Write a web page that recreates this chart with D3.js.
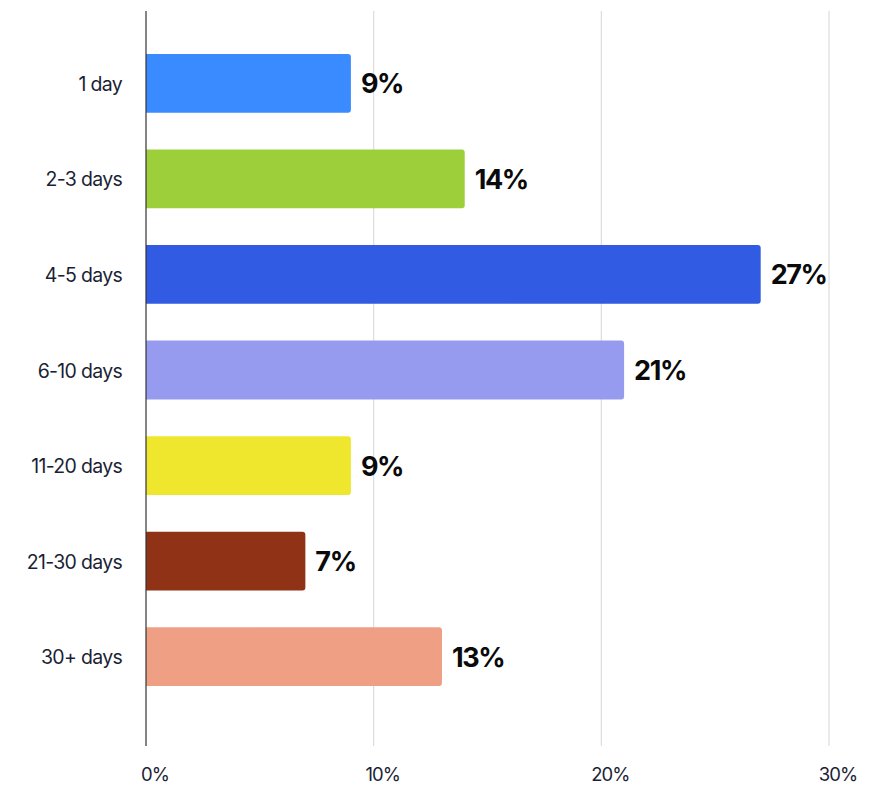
<!DOCTYPE html>
<html>
<head>
<meta charset="utf-8">
<script src="https://cdn.jsdelivr.net/npm/d3@7"></script>
<style>
  html, body { margin: 0; padding: 0; background: #ffffff; }
  svg { display: block; }
</style>
</head>
<body>
<svg id="chart" width="873" height="787"></svg>
<script>
// Share of responses by duration
const categories = ["1 day", "2-3 days", "4-5 days", "6-10 days", "11-20 days", "21-30 days", "30+ days"];
const values = [9, 14, 27, 21, 9, 7, 13];
const colors = ["#3a8bff", "#9dcf3b", "#315be3", "#979bef", "#eee72e", "#8f3215", "#ef9f84"];
const tickValues = [0, 10, 20, 30];
const tickLabels = ["0%", "10%", "20%", "30%"];

const svg = d3.select("#chart");

const x = d3.scaleLinear().domain([0, 30]).range([146, 829]);
const y = d3.scaleBand()
  .domain(categories)
  .range([35.5, 704.5])
  .paddingInner(0.385)
  .paddingOuter(0.1925);

const axisTop = 11, axisBottom = 746;

// vertical gridlines
svg.append("g")
  .selectAll("line")
  .data(tickValues.slice(1))
  .join("line")
  .attr("x1", d => x(d)).attr("x2", d => x(d))
  .attr("y1", axisTop).attr("y2", axisBottom)
  .attr("stroke", "#dcdcdf")
  .attr("stroke-width", 1.2);

// bars with rounded right corners
const r = 3;
function barPath(x0, x1, y0, h) {
  return `M${x0},${y0}H${x1 - r}Q${x1},${y0} ${x1},${y0 + r}V${y0 + h - r}Q${x1},${y0 + h} ${x1 - r},${y0 + h}H${x0}Z`;
}

const rows = categories.map((c, i) => ({ c, v: values[i], color: colors[i] }));

svg.append("g")
  .selectAll("path")
  .data(rows)
  .join("path")
  .attr("d", d => barPath(x(0), x(d.v), y(d.c), y.bandwidth()))
  .attr("fill", d => d.color);

// value labels
svg.append("g")
  .selectAll("text")
  .data(rows)
  .join("text")
  .attr("x", d => x(d.v) + 10)
  .attr("y", d => y(d.c) + y.bandwidth() / 2 + 10)
  .attr("font-family", "Inter, 'Noto Sans', sans-serif")
  .attr("font-weight", 700)
  .attr("font-size", 27)
  .attr("letter-spacing", -1.4)
  .attr("fill", "#0a0a0a")
  .text(d => d.v + "%");

// category labels
svg.append("g")
  .selectAll("text")
  .data(categories)
  .join("text")
  .attr("x", 122)
  .attr("y", d => y(d) + y.bandwidth() / 2 + 7.5)
  .attr("text-anchor", "end")
  .attr("font-family", "Inter, 'Noto Sans', sans-serif")
  .attr("font-size", 19.5)
  .attr("letter-spacing", -0.7)
  .attr("fill", "#1b1f35")
  .text(d => d);

// tick labels
svg.append("g")
  .selectAll("text")
  .data(tickValues)
  .join("text")
  .attr("x", (d, i) => x(d) + 9)
  .attr("y", 781)
  .attr("text-anchor", "middle")
  .attr("font-family", "Inter, 'Noto Sans', sans-serif")
  .attr("font-size", 18.5)
  .attr("letter-spacing", -1)
  .attr("fill", "#1b1f35")
  .text((d, i) => tickLabels[i]);

// baseline axis
svg.append("line")
  .attr("x1", x(0)).attr("x2", x(0))
  .attr("y1", axisTop).attr("y2", axisBottom)
  .attr("stroke", "#333333")
  .attr("stroke-width", 1.2);
</script>
</body>
</html>
